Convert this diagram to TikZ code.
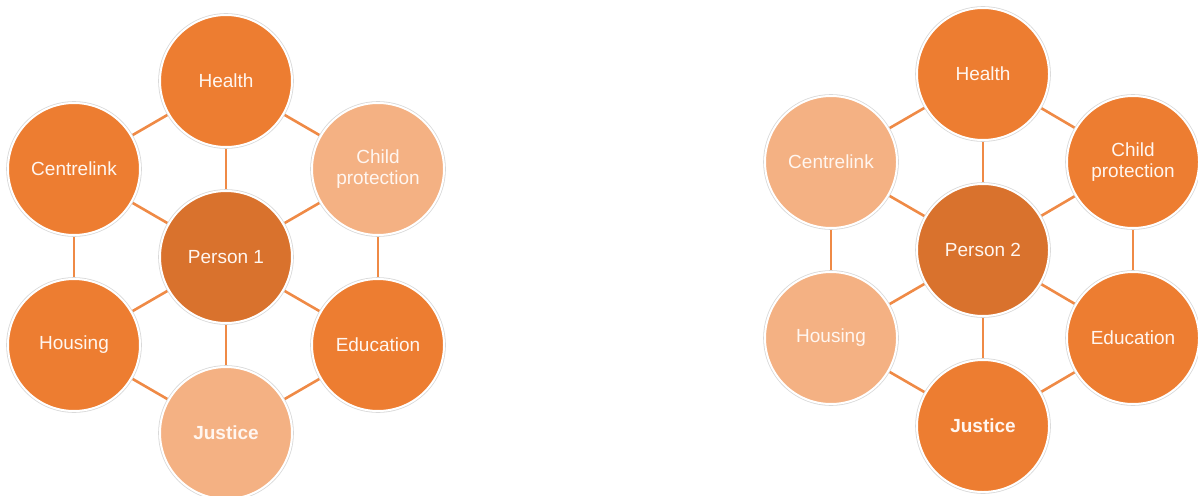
\documentclass[tikz,border=0pt]{standalone}
\usepackage{fontspec}
\setmainfont{Liberation Sans}
\usetikzlibrary{backgrounds}
\definecolor{orangeM}{HTML}{ED7D31}
\definecolor{orangeL}{HTML}{F4B183}
\definecolor{orangeD}{HTML}{D9722D}
\definecolor{txtc}{HTML}{FFF6F0}
\begin{document}
\begin{tikzpicture}[x=1pt,y=-1pt,
  ball/.style={circle, minimum size=132pt, inner sep=0pt, align=center,
    text=txtc, font=\fontsize{19}{21.5}\selectfont,
    preaction={draw=gray!30, line width=3.6pt},
    draw=white, line width=2pt},
  mid/.style={ball, fill=orangeM},
  lite/.style={ball, fill=orangeL},
  core/.style={ball, fill=orangeD},
  link/.style={draw=orangeM!90!white, line width=2.6pt}]
\useasboundingbox (0,0) rectangle (1198,495);
% ---------- Person 1 ----------
\node[core] (p1) at (226,257) {Person 1};
\node[mid]  (h1) at (226,81) {Health};
\node[lite] (cp1) at (378,169) {Child\\protection};
\node[mid]  (e1) at (378,345) {Education};
\node[lite,font=\fontsize{19}{21.5}\selectfont\bfseries] (j1) at (226,433) {Justice};
\node[mid]  (ho1) at (74,345) {Housing};
\node[mid]  (c1) at (74,169) {Centrelink};
% ---------- Person 2 ----------
\node[core] (p2) at (983,250) {Person 2};
\node[mid]  (h2) at (983,74) {Health};
\node[mid]  (cp2) at (1133,162) {Child\\protection};
\node[mid]  (e2) at (1133,338) {Education};
\node[mid,font=\fontsize{19}{21.5}\selectfont\bfseries] (j2) at (983,426) {Justice};
\node[lite] (ho2) at (831,338) {Housing};
\node[lite] (c2) at (831,162) {Centrelink};
\begin{scope}[on background layer]
  \foreach \i in {1,2}{
    \foreach \o in {h,cp,e,j,ho,c}{ \draw[link] (p\i) -- (\o\i); }
    \draw[link] (h\i) -- (cp\i);
    \draw[link] (cp\i) -- (e\i);
    \draw[link] (e\i) -- (j\i);
    \draw[link] (j\i) -- (ho\i);
    \draw[link] (ho\i) -- (c\i);
    \draw[link] (c\i) -- (h\i);
  }
\end{scope}
\end{tikzpicture}
\end{document}
